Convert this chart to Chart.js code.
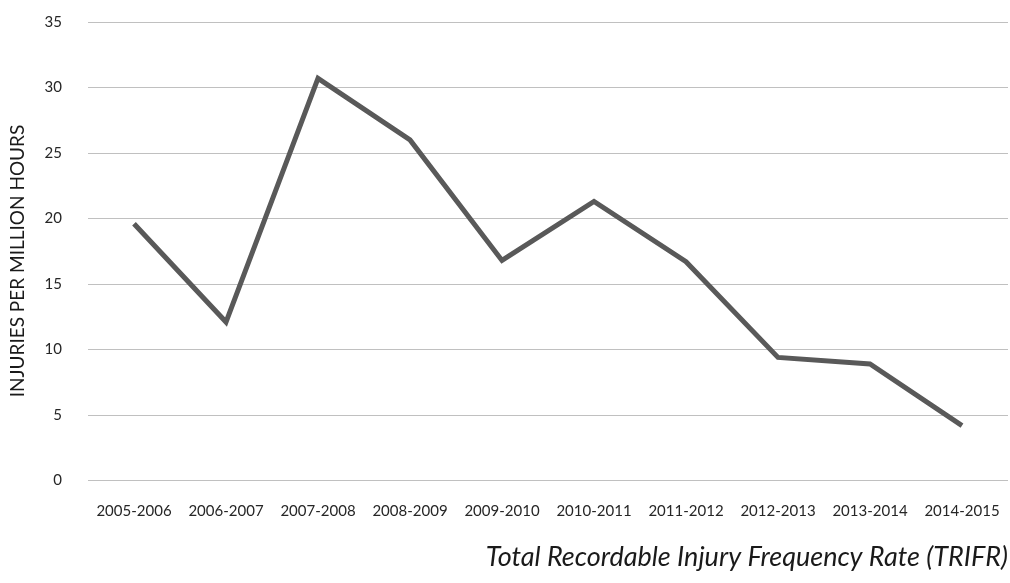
<!DOCTYPE html>
<html>
<head>
  <script src="https://cdn.jsdelivr.net/npm/chart.js@4.4.1/dist/chart.umd.min.js"></script>
  <style>
    html, body { margin: 0; padding: 0; background: #fff; }
    .container-chart { width: 1010px; height: 583px; }
  </style>
</head>
<body>
  <div class="container-chart">
    <canvas id="myChart" width="1010" height="583"></canvas>
  </div>

  <script>
    const years = ["2005-2006", "2006-2007", "2007-2008", "2008-2009", "2009-2010",
      "2010-2011", "2011-2012", "2012-2013", "2013-2014", "2014-2015"];
    const trifr = [19.6, 12.1, 30.7, 26.0, 16.8, 21.3, 16.7, 9.4, 8.9, 4.2];
    const yTicks = [0, 5, 10, 15, 20, 25, 30, 35];

    const fontFamily = "Lato, 'Open Sans', sans-serif";

    // the tick padding would otherwise also push the plot area down / in
    const noAxisPadding = (axis) => {
      axis.paddingTop = 0;
      axis.paddingBottom = 0;
      axis.paddingLeft = 0;
      axis.paddingRight = 0;
    };

    new Chart("myChart", {
      type: "line",
      data: {
        labels: years,
        datasets: [{
          label: "TRIFR",
          data: trifr,
          borderColor: "#595959",
          borderWidth: 5,
          pointRadius: 0,
          fill: false,
          tension: 0,
        }],
      },
      options: {
        responsive: false,
        animation: false,
        layout: { padding: { top: 22, right: 2, left: 4, bottom: 10 } },
        plugins: {
          legend: { display: false },
          tooltip: { enabled: false },
          title: {
            display: true,
            position: "bottom",
            align: "end",
            text: "Total Recordable Injury Frequency Rate (TRIFR)",
            color: "#1a1a1a",
            font: { family: fontFamily, size: 27, style: "italic", weight: "normal" },
            padding: { top: 20, bottom: 0 },
          },
        },
        scales: {
          x: {
            offset: true,
            afterFit: (axis) => { noAxisPadding(axis); axis.height = 40; },
            grid: { display: false, drawTicks: false },
            border: { display: false },
            ticks: { color: "#262626", padding: 22, maxRotation: 0, font: { family: fontFamily, size: 15 } },
          },
          y: {
            min: 0,
            max: 35,
            afterBuildTicks: (axis) => { axis.ticks = yTicks.map(v => ({ value: v })); },
            afterFit: (axis) => { noAxisPadding(axis); axis.width = 84; },
            grid: { color: "#c0c0c0", lineWidth: 1, drawTicks: false },
            border: { display: false },
            ticks: { color: "#262626", padding: 26, font: { family: fontFamily, size: 15 } },
            title: {
              display: true,
              text: "INJURIES PER MILLION HOURS    ",
              color: "#1a1a1a",
              font: { family: fontFamily, size: 19 },
              padding: { top: 2, bottom: 16 },
            },
          },
        },
      },
    });
  </script>
</body>
</html>
